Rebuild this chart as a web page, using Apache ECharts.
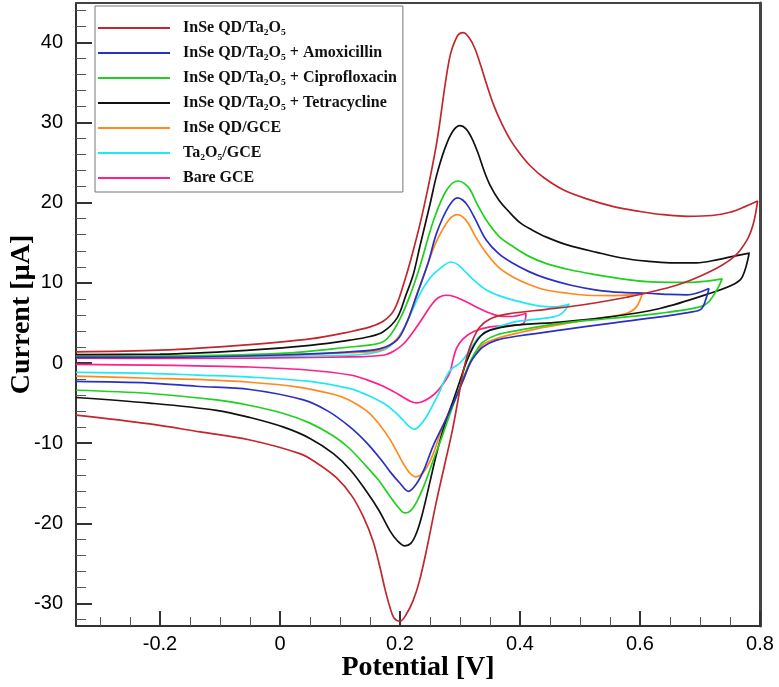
<!DOCTYPE html>
<html>
<head>
<meta charset="utf-8">
<script src="https://cdn.jsdelivr.net/npm/echarts@6.0.0/dist/echarts.min.js"></script>
<style>
  html, body { margin: 0; padding: 0; background: #fff; }
  #chart { width: 779px; height: 687px; }
</style>
</head>
<body>
<div id="chart"></div>
<script>
// tick positions (V and µA)
var potentialTicks = [-0.2, 0, 0.2, 0.4, 0.6, 0.8];
var potentialMinor = [-0.3, -0.25, -0.15, -0.1, -0.05, 0.05, 0.1, 0.15, 0.25, 0.3, 0.35,
    0.45, 0.5, 0.55, 0.65, 0.7, 0.75];
var currentTicks = [-30, -20, -10, 0, 10, 20, 30, 40];
var currentMinor = [-32, -28, -26, -24, -22, -18, -16, -14, -12, -8, -6, -4, -2, 2, 4, 6, 8,
    12, 14, 16, 18, 22, 24, 26, 28, 32, 34, 36, 38, 42, 44];

var seriesNames = [
    'InSe QD/Ta₂O₅',
    'InSe QD/Ta₂O₅ + Amoxicillin',
    'InSe QD/Ta₂O₅ + Ciprofloxacin',
    'InSe QD/Ta₂O₅ + Tetracycline',
    'InSe QD/GCE',
    'Ta₂O₅/GCE',
    'Bare GCE'
];
var seriesColors = ['#c1272d', '#2b2fc8', '#1fd01f', '#111111', '#ff8a1c', '#1ee8f5', '#ff1f8a'];

// each loop: [potential V, current µA], forward scan then reverse scan
var inseTa2o5 = [
    [-0.34, 1.4], [-0.2, 1.6], [-0.05, 2.3], [0.05, 3.0], [0.117, 3.9], [0.15, 4.5], [0.172, 5.2],
    [0.19, 6.6], [0.205, 9.6], [0.222, 14], [0.24, 19.5], [0.261, 27.4], [0.282, 37.8], [0.295, 40.7],
    [0.305, 41.2], [0.315, 40.6], [0.325, 39.2], [0.335, 37.0], [0.345, 34.6], [0.357, 32.0],
    [0.37, 29.8], [0.385, 27.7], [0.40, 26.1], [0.417, 24.6], [0.44, 23.1], [0.472, 21.6], [0.51, 20.5],
    [0.556, 19.5], [0.60, 18.9], [0.639, 18.5], [0.68, 18.3], [0.72, 18.4], [0.75, 18.8], [0.775, 19.5],
    [0.796, 20.2],
    [0.789, 17.4], [0.778, 15.3], [0.756, 13.2], [0.717, 11.4], [0.661, 9.7], [0.578, 8.2], [0.50, 7.2],
    [0.444, 6.7], [0.378, 6.1], [0.35, 5.5], [0.333, 4.5], [0.322, 3.0], [0.313, 1.2], [0.305, -1.2],
    [0.297, -4.5], [0.287, -8.5], [0.275, -12.5], [0.26, -17.5], [0.244, -23.4], [0.232, -27.3],
    [0.222, -29.6], [0.21, -31.4], [0.2, -32.2], [0.19, -31.8], [0.183, -30.4], [0.175, -28.2],
    [0.167, -25.6], [0.155, -22.2], [0.139, -19.2], [0.12, -16.6], [0.094, -14.3], [0.06, -12.4],
    [0.033, -11.3], [-0.05, -9.6], [-0.133, -8.6], [-0.217, -7.6], [-0.34, -6.5]
];
var amoxicillin = [
    [-0.34, 0.7], [-0.2, 0.7], [0, 1.0], [0.117, 1.4], [0.167, 1.8], [0.195, 2.85], [0.211, 5],
    [0.228, 8.5], [0.247, 12.5], [0.261, 16.2], [0.281, 19.5], [0.296, 20.6], [0.305, 20.3],
    [0.314, 19.5], [0.325, 18.0], [0.344, 15.3], [0.365, 13.6], [0.389, 12.4], [0.415, 11.4],
    [0.444, 10.55], [0.485, 9.7], [0.528, 9.1], [0.57, 8.8], [0.611, 8.7], [0.65, 8.55], [0.678, 8.5],
    [0.715, 9.3],
    [0.711, 8.25], [0.703, 6.8], [0.689, 6.4], [0.633, 5.75], [0.55, 4.95], [0.467, 4.1], [0.4, 3.4],
    [0.361, 2.85], [0.338, 2.0], [0.328, 1.2], [0.317, 0.0], [0.305, -2.2], [0.292, -4.5],
    [0.278, -6.8], [0.256, -10.2], [0.24, -13.3], [0.228, -15.0], [0.214, -16.0], [0.2, -15.0],
    [0.185, -13.7], [0.172, -12.4], [0.145, -10.0], [0.117, -8.0], [0.08, -6.0], [0.039, -4.6],
    [-0.05, -3.3], [-0.139, -2.9], [-0.217, -2.5], [-0.34, -2.3]
];
var ciprofloxacin = [
    [-0.34, 0.8], [-0.2, 0.86], [0, 1.2], [0.117, 2.0], [0.167, 2.5], [0.183, 3.4], [0.2, 5.5],
    [0.217, 8.5], [0.233, 12], [0.256, 17.8], [0.278, 21.6], [0.297, 22.7], [0.307, 22.4],
    [0.317, 21.6], [0.328, 19.9], [0.344, 17.8], [0.365, 15.8], [0.389, 14.5], [0.415, 13.3],
    [0.444, 12.4], [0.485, 11.6], [0.528, 11.0], [0.57, 10.5], [0.611, 10.15], [0.65, 10.05],
    [0.694, 10.1], [0.737, 10.5],
    [0.728, 9.1], [0.714, 7.6], [0.70, 7.0], [0.633, 6.2], [0.55, 5.55], [0.467, 4.95], [0.4, 4.1],
    [0.361, 3.5], [0.338, 2.6], [0.326, 1.4], [0.314, -0.3], [0.3, -3.0], [0.285, -6.0],
    [0.27, -9.2], [0.256, -12.0], [0.24, -15.3], [0.228, -17.3], [0.218, -18.4], [0.208, -18.7],
    [0.195, -17.8], [0.183, -16.6], [0.164, -14.6], [0.144, -12.9], [0.115, -10.6], [0.089, -9.1],
    [0.05, -7.5], [0.006, -6.3], [-0.05, -5.3], [-0.106, -4.6], [-0.217, -3.8], [-0.34, -3.4]
];
var tetracycline = [
    [-0.34, 1.05], [-0.2, 1.1], [-0.05, 1.6], [0.05, 2.2], [0.117, 2.85], [0.15, 3.3], [0.172, 3.9],
    [0.195, 5.6], [0.21, 8.5], [0.222, 11], [0.233, 14.5], [0.25, 19.8], [0.261, 23.4], [0.275, 26.8],
    [0.288, 28.9], [0.3, 29.6], [0.31, 29.2], [0.32, 28.0], [0.33, 26.2], [0.34, 24.0], [0.35, 22.2],
    [0.365, 20.3], [0.38, 19.0], [0.40, 17.5], [0.42, 16.6], [0.444, 15.7], [0.48, 14.7], [0.528, 13.8],
    [0.57, 13.1], [0.611, 12.7], [0.65, 12.5], [0.694, 12.5], [0.73, 12.9], [0.755, 13.3], [0.782, 13.7],
    [0.771, 10.8], [0.758, 9.9], [0.717, 8.7], [0.633, 6.8], [0.55, 5.75], [0.467, 5.1], [0.389, 4.7],
    [0.35, 4.1], [0.335, 3.4], [0.322, 2.0], [0.311, 0.2], [0.3, -2.2], [0.29, -4.4], [0.272, -8.3],
    [0.26, -11.6], [0.25, -14.8], [0.238, -18.6], [0.228, -21.1], [0.218, -22.5], [0.208, -22.8],
    [0.196, -22.2], [0.183, -20.9], [0.165, -18.4], [0.144, -16.0], [0.118, -13.4], [0.089, -11.3],
    [0.05, -9.4], [0.006, -8], [-0.05, -6.8], [-0.106, -5.9], [-0.217, -5.0], [-0.34, -4.3]
];
var inseGce = [
    [-0.34, 0.95], [-0.2, 0.85], [0, 1.0], [0.117, 1.3], [0.167, 1.6], [0.195, 3.0], [0.211, 5],
    [0.228, 8.5], [0.247, 12.5], [0.261, 15.2], [0.281, 17.8], [0.296, 18.5], [0.305, 18.2],
    [0.314, 17.4], [0.327, 15.6], [0.344, 13.7], [0.365, 11.9], [0.389, 10.7], [0.415, 9.8],
    [0.444, 9.1], [0.48, 8.7], [0.511, 8.45], [0.556, 8.4], [0.585, 8.5], [0.604, 8.7],
    [0.594, 7.0], [0.578, 6.2], [0.528, 5.55], [0.444, 4.5], [0.4, 3.8], [0.361, 3.05], [0.338, 2.3],
    [0.328, 1.4], [0.317, 0.0], [0.306, -2.0], [0.295, -3.9], [0.283, -5.8], [0.267, -8.8],
    [0.255, -11.4], [0.244, -13.1], [0.234, -14.0], [0.226, -14.2], [0.215, -13.6], [0.206, -12.6],
    [0.183, -9.5], [0.165, -7.6], [0.145, -6.0], [0.115, -4.6], [0.089, -3.9], [0.03, -3.0],
    [-0.05, -2.4], [-0.139, -2.05], [-0.217, -1.9], [-0.34, -1.64]
];
var ta2o5Gce = [
    [-0.34, 0.75], [-0.2, 0.75], [0, 0.85], [0.117, 0.97], [0.172, 1.6], [0.195, 3.0], [0.211, 5],
    [0.233, 8.6], [0.25, 10.6], [0.267, 11.8], [0.285, 12.6], [0.296, 12.3], [0.306, 11.6],
    [0.325, 10.2], [0.344, 9.1], [0.365, 8.4], [0.389, 7.85], [0.433, 7.1], [0.46, 7.0], [0.482, 7.35],
    [0.47, 6.2], [0.456, 5.75], [0.42, 5.4], [0.389, 5.1], [0.35, 4.1], [0.332, 3.3], [0.322, 2.3],
    [0.313, 1.2], [0.3, 0.0], [0.285, -0.8], [0.275, -2.0], [0.267, -3.4], [0.255, -5.2],
    [0.244, -6.7], [0.233, -7.8], [0.224, -8.25], [0.215, -7.9], [0.206, -7.2], [0.19, -6.0],
    [0.172, -5.0], [0.145, -4.0], [0.117, -3.2], [0.05, -2.3], [-0.05, -1.75], [-0.139, -1.5],
    [-0.217, -1.3], [-0.34, -1.18]
];
var bareGce = [
    [-0.34, 0.6], [-0.2, 0.56], [0.117, 0.76], [0.172, 0.97], [0.19, 1.5], [0.206, 2.4],
    [0.222, 3.9], [0.239, 5.75], [0.252, 7.2], [0.263, 8.1], [0.276, 8.45], [0.29, 8.3], [0.311, 7.6],
    [0.335, 6.7], [0.361, 5.95], [0.385, 5.8], [0.41, 6.2],
    [0.406, 4.95], [0.389, 4.7], [0.35, 4.5], [0.322, 3.9], [0.305, 3.0], [0.294, 1.8], [0.288, 0.3],
    [0.283, -1.2], [0.272, -2.6], [0.26, -3.7], [0.25, -4.3], [0.238, -4.8], [0.228, -4.97],
    [0.218, -4.8], [0.206, -4.3], [0.19, -3.6], [0.172, -2.9], [0.145, -2.1], [0.117, -1.5],
    [0.05, -0.9], [-0.05, -0.5], [-0.139, -0.35], [-0.217, -0.26], [-0.34, -0.18]
];

var loops = [inseTa2o5, amoxicillin, ciprofloxacin, tetracycline, inseGce, ta2o5Gce, bareGce];

var chart = echarts.init(document.getElementById('chart'));

var axisColor = '#333';
var tickFont = { fontFamily: 'Liberation Sans', fontSize: 20, color: '#000' };
var xRange = { type: 'value', min: -0.34, max: 0.8, splitLine: { show: false } };
var yRange = { type: 'value', min: -32.8, max: 44.9, splitLine: { show: false } };
var titleFont = { fontFamily: 'Liberation Serif', fontWeight: 'bold', fontSize: 28, color: '#000' };

var series = [];
for (var i = 0; i < loops.length; i++) {
    series.push({
        name: seriesNames[i],
        type: 'line',
        data: loops[i],
        xAxisIndex: 0,
        yAxisIndex: 0,
        symbol: 'none',
        smooth: 0.35,
        z: 10 - i,
        lineStyle: { width: 1.7, color: seriesColors[i] },
        itemStyle: { color: seriesColors[i] }
    });
}

chart.setOption({
    animation: false,
    backgroundColor: '#fff',
    grid: {
        left: 76, right: 19, top: 3, bottom: 61
    },
    legend: {
        orient: 'vertical',
        left: 95, top: 6,
        padding: [14, 6, 6, 3],
        itemWidth: 72,
        itemHeight: 2,
        itemGap: 9,
        icon: 'rect',
        borderColor: '#777',
        borderWidth: 1,
        backgroundColor: '#fff',
        selectedMode: false,
        data: seriesNames,
        textStyle: {
            fontFamily: 'Liberation Serif',
            fontWeight: 'bold',
            fontSize: 16,
            lineHeight: 16,
            color: '#111',
            padding: [0, 0, 0, 8]
        }
    },
    xAxis: [Object.assign({}, xRange, {
        position: 'bottom',
        name: 'Potential [V]',
        nameLocation: 'middle',
        nameGap: 28,
        nameMoveOverlap: false,
        nameTextStyle: titleFont,
        axisLine: { show: true, onZero: false, lineStyle: { color: axisColor, width: 2 } },
        axisTick: { show: true, inside: true, length: 15, customValues: potentialTicks,
            lineStyle: { color: axisColor, width: 2 } },
        axisLabel: Object.assign({ customValues: potentialTicks, margin: 8 }, tickFont)
    }), Object.assign({}, xRange, {
        position: 'bottom',
        axisLine: { show: false, onZero: false },
        axisTick: { show: true, inside: true, length: 9, customValues: potentialMinor,
            lineStyle: { color: '#555', width: 1 } },
        axisLabel: { show: false }
    }), Object.assign({}, xRange, {
        position: 'top',
        axisLine: { show: true, onZero: false, lineStyle: { color: '#444', width: 2 } },
        axisTick: { show: false },
        axisLabel: { show: false }
    })],
    yAxis: [Object.assign({}, yRange, {
        position: 'left',
        name: 'Current [µA]',
        nameLocation: 'middle',
        nameGap: 40,
        nameMoveOverlap: false,
        nameTextStyle: titleFont,
        axisLine: { show: true, onZero: false, lineStyle: { color: axisColor, width: 2 } },
        axisTick: { show: true, inside: true, length: 16, customValues: currentTicks,
            lineStyle: { color: axisColor, width: 2 } },
        axisLabel: Object.assign({ customValues: currentTicks, margin: 13 }, tickFont)
    }), Object.assign({}, yRange, {
        position: 'left',
        axisLine: { show: false, onZero: false },
        axisTick: { show: true, inside: true, length: 10, customValues: currentMinor,
            lineStyle: { color: '#555', width: 1 } },
        axisLabel: { show: false }
    }), Object.assign({}, yRange, {
        position: 'right',
        axisLine: { show: true, onZero: false, lineStyle: { color: '#444', width: 3 } },
        axisTick: { show: false },
        axisLabel: { show: false }
    })],
    series: series
});
</script>
</body>
</html>
